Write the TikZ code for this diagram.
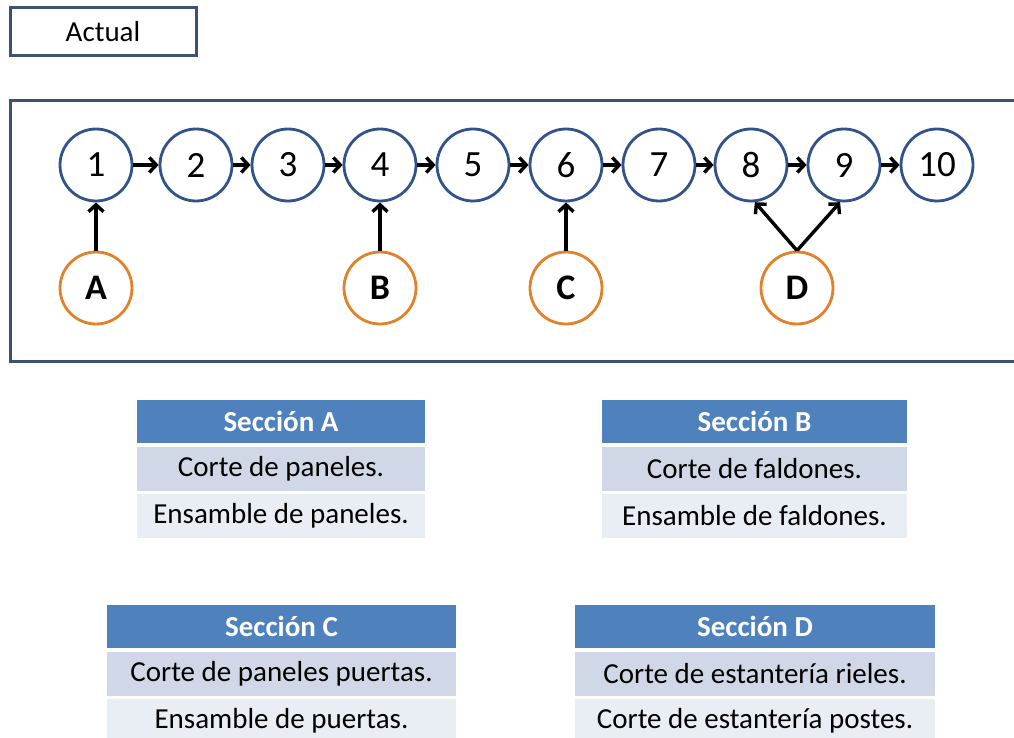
\documentclass[tikz,border=0pt]{standalone}
\usepackage{fontspec}
\setmainfont{Carlito}
\usetikzlibrary{arrows.meta}
\definecolor{framec}{HTML}{3D5273}
\definecolor{circc}{HTML}{30548A}
\definecolor{orangec}{HTML}{E3802A}
\definecolor{headc}{HTML}{4F81BD}
\definecolor{rowa}{HTML}{D0D8E8}
\definecolor{rowb}{HTML}{E9EDF4}
\tikzset{
  numc/.style={circle, draw=circc, line width=2.8pt, minimum size=72pt, inner sep=0pt, fill=white,
    font=\fontsize{37}{40}\selectfont},
  letc/.style={circle, draw=orangec, line width=2.8pt, minimum size=72pt, inner sep=0pt, fill=white,
    font=\fontsize{36}{40}\selectfont\bfseries},
  arr/.style={line width=3.4pt, -{Straight Barb[length=7pt,width=15pt,line width=3.4pt]}},
  hdr/.style={fill=headc, text=white, inner sep=0pt, minimum height=43pt,
    font=\fontsize{29}{32}\selectfont\bfseries},
  rwa/.style={fill=rowa, inner sep=0pt, minimum height=44pt, font=\fontsize{29}{32}\selectfont},
  rwb/.style={fill=rowb, inner sep=0pt, minimum height=44pt, font=\fontsize{29}{32}\selectfont},
}
\begin{document}
\begin{tikzpicture}[x=1pt,y=-1pt]
\useasboundingbox (0,0) rectangle (1014,738);
\clip (0,0) rectangle (1014,738);
\fill[white] (0,0) rectangle (1014,738);
% Actual box
\node[draw=framec, line width=3pt, minimum width=186pt, minimum height=48pt, inner sep=0pt,
  font=\fontsize{29}{32}\selectfont] (actual) at (103,32) {Actual};
% frame
\draw[framec, line width=3pt] (10,101) rectangle (1030,361);
% numbered circles
\foreach \n/\x in {1/96,2/196,3/288,4/380,5/473,6/566,7/659,8/751,9/844,10/937}{
  \node[numc] (n\n) at (\x,165) {\n};
}
\foreach \a/\b in {1/2,2/3,3/4,4/5,5/6,6/7,7/8,8/9,9/10}{
  \draw[arr] (n\a) -- (n\b);
}
% letter circles
\node[letc] (A) at (96,288) {A};
\node[letc] (B) at (380,288) {B};
\node[letc] (C) at (566,288) {C};
\node[letc] (D) at (797,288) {D};
\draw[arr] (A) -- (n1);
\draw[arr] (B) -- (n4);
\draw[arr] (C) -- (n6);
\draw[arr] (D.north) -- (n8.-84);
\draw[arr] (D.north) -- (n9.-96);
% tables
\node[hdr, minimum width=288pt] (hA) at (281,421.5) {Sección A};
\node[rwa, minimum width=288pt] (aA) at (281,469) {Corte de paneles.};
\node[rwb, minimum width=288pt] (bA) at (281,516) {Ensamble de paneles.};
\node[hdr, minimum width=305pt] (hB) at (754.5,421.5) {Sección B};
\node[rwa, minimum width=305pt] (aB) at (754.5,469) {Corte de faldones.};
\node[rwb, minimum width=305pt] (bB) at (754.5,516) {Ensamble de faldones.};
\node[hdr, minimum width=349pt] (hC) at (281.5,626.5) {Sección C};
\node[rwa, minimum width=349pt] (aC) at (281.5,674) {Corte de paneles puertas.};
\node[rwb, minimum width=349pt] (bC) at (281.5,721) {Ensamble de puertas.};
\node[hdr, minimum width=360pt] (hD) at (755,626.5) {Sección D};
\node[rwa, minimum width=360pt] (aD) at (755,674) {Corte de estantería rieles.};
\node[rwb, minimum width=360pt] (bD) at (755,721) {Corte de estantería postes.};
\end{tikzpicture}
\end{document}
